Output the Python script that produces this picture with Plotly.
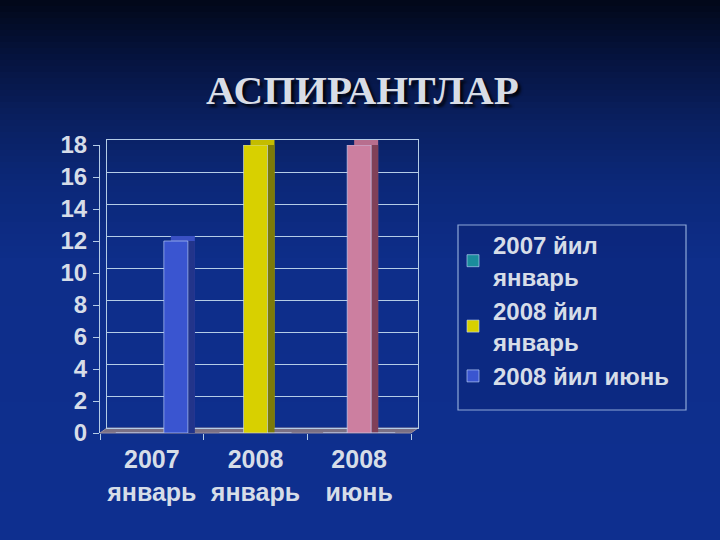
import plotly.graph_objects as go

# ---- data ----
categories = ["2007<br>январь", "2008<br>январь", "2008<br>июнь"]
series_names = ["2007 йил<br>январь", "2008 йил<br>январь", "2008 йил июнь"]
s2007_jan = [0, 0, 0]
s2008_jan = [0, 18, 18]
s2008_jun = [12, 0, 0]
y_ticks = [0, 2, 4, 6, 8, 10, 12, 14, 16, 18]
title_text = "АСПИРАНТЛАР"

W, H = 720, 540
# front plane / back wall in pixels
FX0, FX1, FY0, FY1 = 100, 411, 433, 145
DX, DY = 7, 5

def px_dom_x(a, b):
    return [a / W, b / W]

def px_dom_y(bottom, top):
    return [(H - bottom) / H, (H - top) / H]

front_colors = [["#1a8c9c"] * 3, ["#d8d000", "#d8d000", "#cc7fa0"], ["#3a55d0"] * 3]
top_colors = [["#1a8c9c"] * 3, ["#c4bc00", "#c4bc00", "#b86e8e"], ["#3a50c4"] * 3]
side_colors = [["#10606c"] * 3, ["#7c7a08", "#7c7a08", "#804058"], ["#22348a"] * 3]
values = [s2007_jan, s2008_jan, s2008_jun]

fig = go.Figure()

# back copy (top faces), on back-wall axes
for v, c in zip(values, top_colors):
    fig.add_trace(go.Bar(x=categories, y=v, marker=dict(color=c, line=dict(width=0)),
                         xaxis="x", yaxis="y", showlegend=False, hoverinfo="skip"))
# side copy
for v, c in zip(values, side_colors):
    fig.add_trace(go.Bar(x=categories, y=v, marker=dict(color=c, line=dict(width=0)),
                         xaxis="x2", yaxis="y2", showlegend=False, hoverinfo="skip"))
# front faces
for v, c, n in zip(values, front_colors, series_names):
    fig.add_trace(go.Bar(x=categories, y=v, name=n,
                         marker=dict(color=c, line=dict(width=1, color="rgba(200,220,255,0.6)")),
                         xaxis="x3", yaxis="y3"))

grid_c = "#b4cce6"
txt_c = "#d6dde8"
yfont = dict(family="Liberation Sans, Arial", size=24, color=txt_c, weight="bold")
xfont = dict(family="Liberation Sans, Arial", size=25, color=txt_c, weight="bold")

# background gradient bands
stops = [(0, (2, 8, 24)), (60, (6, 20, 64)), (120, (10, 32, 96)), (180, (12, 40, 120)),
         (260, (14, 46, 138)), (540, (15, 48, 144))]
shapes = []
band = 6
for y0 in range(0, H, band):
    ym = y0 + band / 2
    for (a, ca), (b, cb) in zip(stops[:-1], stops[1:]):
        if a <= ym <= b:
            t = (ym - a) / (b - a)
            col = tuple(int(ca[i] + (cb[i] - ca[i]) * t) for i in range(3))
            break
    shapes.append(dict(type="rect", xref="paper", yref="paper", layer="below",
                       x0=0, x1=1, y0=(H - y0 - band) / H, y1=(H - y0) / H,
                       line=dict(width=0), fillcolor="rgb(%d,%d,%d)" % col))

# floor slab
fx = lambda p: p / W
fy = lambda p: (H - p) / H
shapes.append(dict(type="path", xref="paper", yref="paper", layer="below",
                   path="M%f,%f L%f,%f L%f,%f L%f,%f Z" % (
                       fx(FX0), fy(FY0), fx(FX1), fy(FY0), fx(FX1 + DX), fy(FY0 - DY),
                       fx(FX0 + DX), fy(FY0 - DY)),
                   fillcolor="#7a7084", line=dict(width=1, color="#9a90a0")))
# legend box
shapes.append(dict(type="rect", xref="paper", yref="paper", layer="below",
                   x0=458 / W, x1=686 / W, y0=(H - 410) / H, y1=(H - 225) / H,
                   fillcolor="rgba(10,30,110,0.3)", line=dict(width=1.2, color="#8ea8d8")))

fig.update_layout(
    width=W, height=H,
    margin=dict(l=0, r=0, t=0, b=0, pad=0, autoexpand=False),
    paper_bgcolor="#0e2c86",
    plot_bgcolor="rgba(0,0,0,0)",
    showlegend=True,
    barmode="group", bargap=0.305, bargroupgap=0,
    shapes=shapes,
    xaxis=dict(domain=px_dom_x(FX0 + DX, FX1 + DX), showgrid=False, showticklabels=False,
               showline=True, mirror=True, linecolor=grid_c, linewidth=1, ticks="",
               automargin=False),
    yaxis=dict(domain=px_dom_y(FY0 - DY, FY1 - DY), range=[0, 18], tickvals=y_ticks,
               showgrid=True, gridcolor=grid_c, gridwidth=1, showticklabels=False,
               showline=True, mirror=True, linecolor=grid_c, linewidth=1, zeroline=False,
               ticks="", automargin=False),
    xaxis2=dict(domain=px_dom_x(FX0 + DX, FX1 + DX), anchor="y2", visible=False, automargin=False),
    yaxis2=dict(domain=px_dom_y(FY0, FY1), anchor="x2", range=[0, 18], visible=False,
                automargin=False),
    xaxis3=dict(domain=px_dom_x(FX0, FX1), anchor="y3", showgrid=False, showline=False,
                ticks="outside", ticklen=6, tickcolor=grid_c, tickson="boundaries",
                tickfont=xfont, ticklabelstandoff=9, automargin=False),
    yaxis3=dict(domain=px_dom_y(FY0, FY1), anchor="x3", range=[0, 18], tickvals=y_ticks,
                showgrid=False, zeroline=False, showline=True, linecolor=grid_c, linewidth=1,
                ticks="outside", ticklen=6, tickcolor=grid_c, tickfont=yfont,
                ticklabelstandoff=1, automargin=False),
    legend=dict(x=453 / W, y=(H - 223) / H, xanchor="left", yanchor="top",
                bgcolor="rgba(0,0,0,0)", borderwidth=0,
                font=dict(family="Liberation Sans, Arial", size=24, color=txt_c, weight="bold"),
                itemwidth=30),
    annotations=[dict(text=title_text, x=362 / W, y=(H - 90) / H, xref="paper", yref="paper",
                      xanchor="center", yanchor="middle", showarrow=False,
                      font=dict(family="Liberation Serif, Times New Roman", size=41,
                                color="#d8dde6", weight="bold",
                                shadow="3px 3px 3px rgba(0,0,0,0.85)"))],
)

fig.write_html("out.html", config={"displayModeBar": False},
               post_script="document.body.style.margin='0';")
